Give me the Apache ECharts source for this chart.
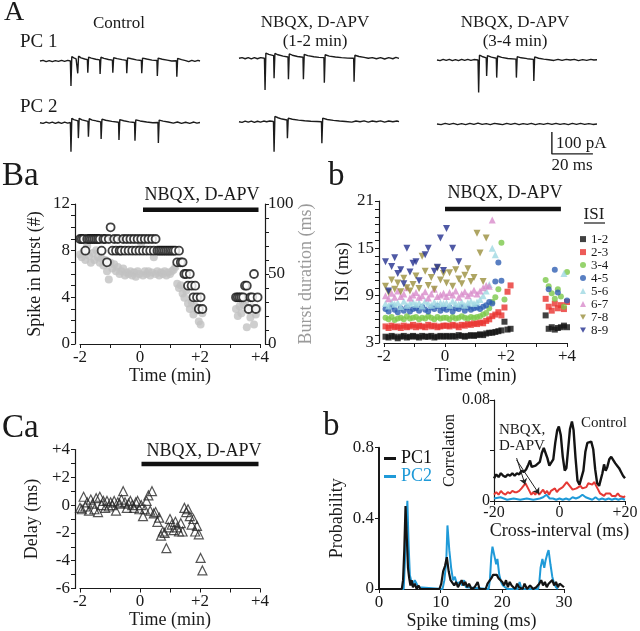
<!DOCTYPE html>
<html><head><meta charset="utf-8">
<script src="https://cdn.jsdelivr.net/npm/echarts@6/dist/echarts.min.js"></script>
<style>html,body{margin:0;padding:0;background:#fff}#c{width:640px;height:631px}</style>
</head><body><div id="c"></div><script>
// ---------- Panel A: current traces [time (ms), current (pA)] ----------
const trControlPC1 = [[0,0],[1.5,3],[3,-3],[4.5,2],[6,-3],[7.5,2],[9,-2],[10.5,3],[12,-2],[13.5,3],[14.8,0],
 [15.1,-114],[15.5,20],[16.5,14],[17.6,10],[18.2,8],[18.4,-56],[18.8,22],[20,14],[21.8,9],[23.1,6],
 [23.3,-53],[23.7,18],[25,13],[27.2,8],[29.1,5],[29.3,-59],[29.7,17],[31.2,12],[33.4,7],[35.3,4],
 [35.5,-53],[35.9,15],[37.6,11],[40,6],[42.1,3],[42.3,-56],[42.7,14],[44.6,10],[47,5],[49.4,2],
 [49.6,-56],[50,13],[52,9],[54.6,4],[57,2],[57.2,-68],[57.6,13],[59.6,8],[62,4],[64.2,0],[66.5,1],
 [66.7,-71],[67.1,12],[69,6],[71,2],[72.5,-3],[74,3],[75.5,-2],[77,3],[78,0]];
const trControlPC2 = [[0,0],[1.5,-3],[3,3],[4.5,-2],[6,3],[7.5,-3],[9,2],[10.5,-3],[12,3],[13.5,-2],[14.8,1],
 [15.1,-132],[15.5,20],[16.5,14],[18.5,8],[18.7,-70],[19.1,20],[20.5,13],[23.4,6],
 [23.6,-64],[24,18],[25.5,12],[27.5,8],[29.6,4],[29.8,-74],[30.2,16],[32,11],[35,6],[38.3,2],
 [38.5,-79],[38.9,14],[40.8,9],[43.5,4],[46.1,1],[46.3,-82],[46.7,13],[48.8,8],[52,3],[55,0],[57.5,1],
 [57.7,-92],[58.1,12],[60,7],[62.5,3],[65,-2],[67,3],[69,-3],[71,2],[73,-3],[75,3],[76.5,-2],[78,1]];
const trEarlyPC1 = [[0,0],[1.5,3],[3,-2],[4.5,3],[6,-3],[7.5,3],[9,-2],[10.5,3],[12.4,0],
 [12.7,-144],[13.1,24],[14.5,18],[16.9,12],[17.1,-91],[17.5,22],[19,16],[21.5,10],[23.9,6],
 [24.1,-95],[24.5,20],[26,14],[28.5,8],[31.2,5],[31.4,-95],[31.8,18],[33.5,12],[36.5,7],[39,4],[41.4,3],
 [41.6,-111],[42,16],[44,10],[47,6],[50,3],[53,1],[55.9,0],[56.1,-106],[56.5,14],[58.5,8],[61,4],
 [63,0],[65,3],[67,-2],[69,3],[71,-3],[73,3],[75,-2],[76.5,4],[78,0]];
const trEarlyPC2 = [[0,0],[1.5,-3],[3,3],[4.5,-2],[6,3],[7.5,-3],[9,2],[10.5,-2],[12,3],[13.5,0],[15,3],[16.8,1],
 [17.1,-136],[17.5,24],[19,18],[21,12],[23.4,8],[23.6,-75],[24,16],[26,11],[29,7],[32,4],[35,2],[38,1],[40.2,0],
 [40.4,-98],[40.8,16],[43,10],[46,6],[49,3],[52,1],[55,-2],[57,3],[59,0],[61,4],[63,-2],[65,3],[67,0],
 [69,4],[71,-2],[73,3],[75,0],[77,3],[78,0]];
const trLatePC1 = [[0,0],[1.5,-3],[3,3],[4.5,-2],[6,3],[7.5,-3],[9,2],[10.5,-3],[12,3],[13.5,-2],[15,3],[16.5,-2],[18,2],[20,0],
 [20.3,-148],[20.7,22],[22,16],[24,10],[24.2,-73],[24.6,20],[26.5,13],[28.9,8],
 [29.1,-80],[29.5,18],[31.5,12],[34.5,7],[38.5,4],[38.7,-80],[39.1,15],[41,10],[44,6],[47,3],
 [47.2,-95],[47.6,14],[49.5,8],[52,4],[54.5,1],[57,-2],[59,3],[61,-2],[63,3],[65,0],[67,3],[69,-3],
 [71,2],[73,-2],[75,3],[76.5,0],[78,1]];
const trLatePC2 = [[0,0],[2,-3],[4,3],[6,-2],[8,3],[10,-3],[12,2],[14,-3],[16,3],[18,-2],[20,4],[22,-2],[24,2],
 [26,-3],[28,3],[30,0],[32,-3],[34,3],[36,-2],[38,3],[40,-3],[42,2],[44,-2],[46,3],[48,-3],[50,2],[52,-2],
 [54,3],[56,-2],[58,3],[60,-2],[62,2],[64,-3],[66,3],[68,-2],[70,3],[72,-2],[74,2],[76,-2],[78,0]];
const scaleBar = [[56,-36],[56,-136],[76,-136]]; // 100 pA, 20 ms

// ---------- Panel Ba / Ca: time (min) ----------
const tA = [-2.00,-1.94,-1.88,-1.82,-1.76,-1.70,-1.64,-1.58,-1.52,-1.46,
 -1.40,-1.34,-1.28,-1.22,-1.16,-1.10,-1.04,-0.98,-0.92,-0.86,
 -0.80,-0.74,-0.68,-0.62,-0.56,-0.50,-0.44,-0.38,-0.32,-0.26,
 -0.20,-0.14,-0.08,-0.02,0.04,0.10,0.16,0.22,0.28,0.34,
 0.40,0.46,0.52,0.58,0.64,0.70,0.76,0.82,0.88,0.94,
 1.00,1.06,1.12,1.18,1.24,1.30,1.36,1.42,1.48,1.54,
 1.60,1.66,1.72,1.78,1.84,1.90,1.96,2.02,2.08,
 3.20,3.26,3.32,3.38,3.44,3.50,3.56,3.62,3.68,3.74,3.80,3.86,3.92];
const baCount = [9,9,9,8,9,9,9,9,9,9, 9,9,8,9,9,7,9,10,8,9, 8,9,8,8,9,8,9,8,9,8,
 9,8,9,8,9,8,9,8,9,8, 9,8,9,8,8,8,8,8,8,8, 8,8,8,8,7,8,7,7,6,6, 5,6,5,4,5,4,3,4,3,
 4,4,4,4,4,5,5,3,4,4,6,3,4];
const baDuration = [64,62,66,60,70,63,58,65,60,67, 62,58,61,56,60,52,46,58,54,57, 52,55,50,52,54,49,51,50,52,49,
 51,48,52,50,70,49,52,50,52,49, 51,62,50,52,49,51,50,52,49,51, 50,52,53,55,43,40,42,36,33,38, 29,25,30,21,27,24,16,14,22,
 25,20,27,22,28,30,12,24,19,26,14,21,25];
const caDelay = [-0.2,-0.3,0.6,-0.1,0.2,-0.4,0.4,0.1,-0.3,0.5, -0.5,0.6,0.0,0.3,-0.2,0.3,-0.1,0.2,0.0,0.3,
 -0.4,0.2,0.1,0.4,1.0,0.2,-0.2,0.1,0.3,0.0, -0.2,0.2,0.3,-0.3,0.0,-0.8,-0.3,0.3,0.7,-0.4,
 1.0,-0.6,-0.5,-1.2,-0.9,-2.2,-1.9,-2.0,-3.1,-1.6, -1.0,-1.4,-1.8,-1.2,-1.6,-1.9,-1.3,-1.9,-0.2,-0.5,
 -0.3,-0.8,-1.4,-1.0,-1.9,-1.5,-2.1,-3.8,-4.7,
 null,null,null,null,null,null,null,null,null,null,null,null,null];

// ---------- Panel Bb: ISI (ms) vs time (min) ----------
const tB = [-1.95,-1.85,-1.75,-1.65,-1.55,-1.45,-1.35,-1.25,-1.15,-1.05,
 -0.95,-0.85,-0.75,-0.65,-0.55,-0.45,-0.35,-0.25,-0.15,-0.05,
 0.05,0.15,0.25,0.35,0.45,0.55,0.65,0.75,0.85,0.95,
 1.05,1.15,1.25,1.35,1.45,1.55,1.65,1.75,1.85,1.95,2.05,2.15,
 3.3,3.4,3.5,3.6,3.7,3.8,3.9,4.0];
const N8 = [null,null,null,null,null,null,null,null];
const isiNames = ['1-2','2-3','3-4','4-5','5-6','6-7','7-8','8-9'];
const isi12 = [3.8,3.7,3.9,3.8,3.6,3.8,3.9,3.7,3.8,3.9, 3.8,3.7,3.9,3.8,3.8,3.9,3.7,3.8,3.9,3.8,
 3.9,3.8,3.9,3.8,4.0,3.9,3.8,3.9,4.0,3.9, 4.0,4.1,4.0,4.2,4.3,4.3,4.4,4.5,4.6,5.7,4.7,4.8,
 6.5,4.8,5.0,4.7,4.9,5.0,5.2,5.0];
const isi23 = [5.1,4.9,5.2,5.0,5.1,4.9,5.2,5.0,5.1,5.3, 5.0,5.2,5.1,5.0,5.3,5.1,5.2,5.0,5.1,5.2,
 5.2,5.1,5.3,5.2,5.0,5.3,5.2,5.4,5.3,5.5, 5.4,5.6,5.5,5.8,6.0,6.4,6.6,6.9,6.5,7.5,9.5,10.3,
 8.6,7.6,7.1,8.0,7.4,7.8,7.3,8.2];
const isi34 = [6.2,6.0,6.3,5.9,6.1,6.2,6.0,6.4,6.1,6.2, 6.3,6.0,6.2,6.1,6.4,6.2,6.0,6.3,6.1,6.2,
 6.2,6.0,6.3,6.1,6.2,6.4,6.2,6.1,6.3,6.2, 6.3,6.4,6.6,6.8,7.4,8.2,8.8,9.8,15.7,8.5,null,null,
 11.0,10.2,9.3,8.6,9.8,8.9,7.6,12.0];
const isi45 = [7.3,7.0,7.6,7.2,6.9,7.4,7.1,7.5,7.0,7.3, 7.4,7.1,7.6,7.2,7.0,7.5,7.3,7.7,7.1,7.4,
 7.2,7.5,7.0,7.4,7.3,7.6,7.1,7.5,7.2,7.4, 7.5,7.3,7.6,7.8,8.2,8.0,10.8,13.2,10.9,null,null,null,
 null,9.8,null,12.3,9.4,null,null,8.4];
const isi56 = [8.0,7.7,8.2,7.9,8.1,7.6,8.3,7.8,8.0,8.2, 7.9,8.1,7.7,8.3,8.0,7.8,8.2,7.9,8.1,8.0,
 8.1,7.8,8.3,8.0,7.9,8.2,7.8,8.1,8.3,8.0, 8.2,8.5,9.0,9.6,10.4,15.0,14.2,null,null,null,null,null,
 null,null,null,null,null,null,11.8,null];
const isi67 = [9.0,8.6,9.3,8.8,9.6,8.9,9.2,10.0,8.7,9.1, 9.4,8.8,9.0,9.5,8.7,9.2,9.8,8.9,9.1,9.3,
 8.9,9.4,9.1,9.6,8.8,9.2,9.5,9.0,9.3,9.7, 9.2,9.6,10.0,10.3,10.2,18.6,null,null,null,null,null,null].concat(N8);
const isi78 = [10.2,9.4,11.0,9.8,10.6,9.5,11.2,10.0,9.6,10.4, 11.5,9.9,14.0,12.1,10.3,11.3,9.8,12.5,11.0,11.8,
 10.6,11.9,10.2,12.3,11.1,10.5,11.6,12.4,10.8,11.3, 16.9,14.4,10.8,16.3,null,null,null,null,null,null,null,null].concat(N8);
const isi89 = [13.3,9.6,12.7,13.8,11.8,12.3,10.5,15.0,12.0,13.1, 13.3,10.9,null,14.2,15.0,null,12.1,12.6,16.3,12.2,
 17.5,null,15.0,null,13.3,null,null,null,null,null, null,null,null,null,null,null,null,null,null,null,null,null].concat(N8);

// ---------- Panel Cb: spike timing histograms [ms, probability] ----------
const probPC1 = [[0,0],[3.7,0],[3.9,0.05],[4.1,0.22],[4.3,0.47],[4.5,0.30],[4.7,0.12],[4.9,0.06],[5.1,0.02],[5.3,0.05],
 [5.5,0.01],[5.8,0.03],[6.1,0],[6.4,0.02],[6.7,0],[9.8,0],[10.1,0.03],[10.4,0.10],[10.7,0.13],[11.0,0.18],[11.3,0.10],
 [11.6,0.05],[11.9,0.06],[12.2,0.02],[12.5,0.04],[12.8,0.01],[13.1,0.03],[13.4,0.05],[13.7,0.02],[14.0,0.04],[14.3,0.01],
 [14.6,0.03],[15.0,0],[15.5,0.01],[16.0,0.04],[16.3,0],[17.3,0],[17.6,0.03],[17.9,0.02],[18.2,0.06],[18.5,0.08],
 [18.8,0.07],[19.1,0.08],[19.4,0.06],[19.7,0.07],[20.0,0.04],[20.3,0.02],[20.6,0.05],[20.9,0.01],[21.2,0.04],[21.5,0.02],
 [21.8,0.03],[22.1,0],[22.4,0.03],[22.7,0.01],[23.0,0.02],[23.3,0],[23.6,0.03],[24.0,0],[24.5,0.02],[25.0,0],[25.5,0.01],
 [26.0,0.03],[26.3,0.05],[26.6,0.02],[26.9,0.04],[27.2,0.01],[27.5,0.03],[27.8,0.02],[28.1,0.05],[28.4,0.02],[28.7,0.04],
 [29.0,0.01],[29.3,0.03],[29.6,0.02],[30,0.01]];
const probPC2 = [[0,0],[4.0,0],[4.2,0.15],[4.4,0.35],[4.6,0.50],[4.8,0.25],[5.0,0.08],[5.2,0.05],[5.5,0.03],[5.8,0.05],
 [6.1,0.04],[6.4,0.01],[6.7,0],[10.3,0],[10.6,0.05],[10.9,0.15],[11.1,0.36],[11.4,0.22],[11.7,0.12],[12.0,0.05],
 [12.3,0.07],[12.6,0.03],[12.9,0.02],[13.2,0.04],[13.5,0.02],[13.8,0.05],[14.1,0.01],[14.4,0],[17.8,0],[18.0,0.06],
 [18.2,0.18],[18.4,0.24],[18.7,0.23],[19.0,0.14],[19.2,0.17],[19.5,0.08],[19.8,0.04],[20.1,0.02],[20.4,0.03],[20.8,0],
 [22.5,0],[22.8,0.04],[23.1,0],[25.8,0],[26.0,0.04],[26.2,0.12],[26.5,0.17],[26.8,0.12],[27.0,0.16],[27.3,0.20],
 [27.5,0.22],[27.8,0.14],[28.1,0.07],[28.4,0.03],[28.7,0.01],[29.0,0]];

// ---------- Inset: cross-correlation [ms, correlation] ----------
const corrControl = [[-20,0.018],[-19.3,0.021],[-18.6,0.019],[-17.9,0.022],[-17.2,0.020],[-16.5,0.019],[-15.8,0.021],
 [-15.1,0.020],[-14.4,0.022],[-13.7,0.020],[-13.0,0.022],[-12.3,0.021],[-11.6,0.024],[-10.9,0.023],[-10.2,0.025],
 [-9.5,0.029],[-9.0,0.032],[-8.5,0.027],[-7.9,0.026],[-7.3,0.028],[-6.7,0.027],[-6.0,0.031],[-5.4,0.038],[-4.8,0.042],
 [-4.3,0.041],[-3.7,0.034],[-3.1,0.028],[-2.5,0.027],[-1.9,0.033],[-1.3,0.046],[-0.7,0.056],[-0.2,0.059],[0.4,0.052],
 [1.0,0.035],[1.6,0.024],[2.1,0.026],[2.6,0.040],[3.2,0.057],[3.8,0.063],[4.3,0.056],[4.9,0.034],[5.5,0.016],[6.1,0.013],
 [6.7,0.014],[7.3,0.024],[7.9,0.039],[8.5,0.046],[9.1,0.045],[9.7,0.047],[10.3,0.041],[10.9,0.025],[11.5,0.014],
 [12.1,0.012],[12.6,0.013],[13.1,0.022],[13.6,0.029],[14.1,0.024],[14.6,0.027],[15.2,0.033],[15.8,0.035],[16.4,0.034],
 [17.0,0.030],[17.6,0.028],[18.2,0.026],[18.8,0.023],[19.4,0.020],[20,0.018]];
const corrEarly = [[-20,0.005],[-19.3,0.007],[-18.6,0.005],[-17.9,0.008],[-17.2,0.006],[-16.5,0.005],[-15.8,0.007],
 [-15.1,0.006],[-14.4,0.008],[-13.7,0.007],[-13.0,0.007],[-12.3,0.008],[-11.6,0.010],[-11.0,0.012],[-10.4,0.014],
 [-9.8,0.013],[-9.2,0.008],[-8.6,0.005],[-8.0,0.007],[-7.4,0.005],[-6.8,0.008],[-6.2,0.005],[-5.6,0.006],[-5.0,0.009],
 [-4.4,0.006],[-3.8,0.008],[-3.2,0.005],[-2.6,0.008],[-2.0,0.007],[-1.4,0.010],[-0.8,0.007],[-0.2,0.009],[0.4,0.008],
 [1.0,0.011],[1.6,0.013],[2.2,0.015],[2.8,0.014],[3.4,0.011],[4.0,0.009],[4.6,0.008],[5.2,0.010],[5.8,0.009],[6.4,0.012],
 [7.0,0.010],[7.6,0.009],[8.2,0.011],[8.8,0.014],[9.4,0.015],[10.0,0.013],[10.6,0.015],[11.2,0.012],[11.8,0.009],
 [12.4,0.006],[13.0,0.006],[13.6,0.004],[14.2,0.006],[14.8,0.005],[15.4,0.006],[16.0,0.004],[16.6,0.005],[17.2,0.004],
 [17.8,0.006],[18.4,0.004],[19.0,0.005],[19.6,0.003],[20,0.004]];
const corrLate = [[-20,0.002],[-18,0.003],[-16,0.001],[-14,0.002],[-12,0.001],[-10,0.002],[-8,0.001],[-6,0.002],
 [-5,0.003],[-4,0.005],[-3,0.002],[-2,0.002],[-1,0.001],[0,0.002],[1,0.001],[2,0.002],[3,0.001],[4,0.003],[5,0.002],
 [6,0.003],[7,0.005],[8,0.003],[9,0.002],[10,0.001],[11,0.003],[12,0.001],[13,0.002],[14,0.001],[15,0.002],[16,0.001],
 [17,0.002],[18,0.001],[19,0.002],[20,0.001]];
const arrowsNBQX = [[[-13.1,0.034],[-10.5,0.013]], [[-13.1,0.0325],[-6.2,0.0055]]];
const drugOn = 0.1, drugOff = 3.95;

// ---------- build chart ----------
const F = '"Liberation Serif", "Times New Roman", serif';
const INK = '#1a1a1a';
const DOWN_TRI = 'path://M0,0 L10,0 L5,9 Z';
const plus = v => (v > 0 ? '+' + v : '' + v);
function clean(o){ Object.keys(o).forEach(k => { if (o[k] === undefined) delete o[k]; }); return o; }
function axis(o) {
  return clean({
    type: 'value', gridIndex: o.g, min: o.min, max: o.max, interval: o.iv,
    position: o.pos, offset: o.off || 0,
    axisLine: { show: true, onZero: false, lineStyle: { color: INK, width: o.lw || 1.2 } },
    axisTick: { show: true, length: 4, lineStyle: { color: INK, width: 1 } },
    minorTick: { show: !!o.minor, splitNumber: o.minor || 5, length: 4, lineStyle: { color: INK, width: 1 } },
    splitLine: { show: false }, minorSplitLine: { show: false },
    axisLabel: clean({ show: true, formatter: o.fmt, fontFamily: F, fontSize: o.fs || 17, color: INK, margin: o.margin || 5 }),
    name: o.name || '', nameLocation: 'middle', nameGap: o.gap || 20, nameRotate: o.rot,
    nameTextStyle: { fontFamily: F, fontSize: o.nfs || 18, color: o.ncolor || INK }
  });
}
const hid = (g, min, max) => ({ type: 'value', gridIndex: g, min, max, show: false,
  axisLine: { onZero: false }, splitLine: { show: false } });
const grid = (left, top, width, height) => ({ left, top, width, height, containLabel: false, outerBoundsMode: 'none' });

const grids = [
  grid(40, 52.2, 160, 44), grid(40, 113.9, 160, 44),
  grid(239, 49.5, 160, 44), grid(239, 112.9, 160, 44),
  grid(437, 51.2, 160, 44), grid(437, 115.2, 160, 44),
  grid(80, 204, 180, 140),      // 6 Ba
  grid(384, 201, 183, 142),     // 7 Bb
  grid(80, 449.5, 180, 139),    // 8 Ca
  grid(379, 447.7, 185, 141.3), // 9 Cb
  grid(494, 400, 131, 101)      // 10 inset
];
const xAxes = [0,1,2,3,4,5].map(g => hid(g, 0, 78)).concat([
  axis({ g: 6, min: -2, max: 4, iv: 2, minor: 2, fmt: plus, name: 'Time (min)', gap: 23 }),
  axis({ g: 7, min: -2, max: 4, iv: 2, minor: 2, fmt: plus, name: 'Time (min)', gap: 24 }),
  axis({ g: 8, min: -2, max: 4, iv: 2, minor: 2, fmt: plus, name: 'Time (min)', gap: 22 }),
  axis({ g: 9, min: 0, max: 30, iv: 10, name: 'Spike timing (ms)', gap: 20 }),
  axis({ g: 10, min: -20, max: 20, iv: 20, fmt: plus, fs: 16, margin: 4, name: 'Cross-interval (ms)', gap: 18 })
]);
const yAxes = [0,1,2,3,4,5].map(g => hid(g, -160, 40)).concat([
  axis({ g: 6, min: 0, max: 12, iv: 4, minor: 4, pos: 'left', off: 5, name: 'Spike in burst (#)', gap: 31, rot: 90 }),
  axis({ g: 6, min: 0, max: 100, iv: 50, minor: 5, pos: 'right', off: 5, margin: 3, name: 'Burst duration (ms)', gap: 31, rot: 90, ncolor: '#9a9a9a' }),
  axis({ g: 7, min: 3, max: 21, iv: 6, minor: 6, pos: 'left', off: 5, name: 'ISI (ms)', gap: 27, rot: 90 }),
  axis({ g: 8, min: -6, max: 4, iv: 2, minor: 2, pos: 'left', off: 5, fmt: plus, name: 'Delay (ms)', gap: 34, rot: 90 }),
  axis({ g: 9, min: 0, max: 0.8, iv: 0.4, pos: 'left', lw: 2, name: 'Probability', gap: 33, rot: 90 }),
  axis({ g: 10, min: 0, max: 0.08, iv: 0.04, pos: 'left', fs: 16, margin: 4,
    fmt: v => (Math.abs(v) < 1e-9 ? '0' : Math.abs(v - 0.08) < 1e-9 ? '0.08' : ''), name: 'Correlation', gap: 30, nfs: 16, rot: 90 })
]);

const lineS = (name, data, xi, yi, color, w, z) => ({ type: 'line', name, xAxisIndex: xi, yAxisIndex: yi, data,
  symbol: 'none', showSymbol: false, lineStyle: { color, width: w }, itemStyle: { color }, z: z || 2, silent: true });
const pairs = (t, v) => t.map((x, i) => [x, v[i]]).filter(p => p[1] !== null && p[1] !== undefined);

const series = [];
[trControlPC1, trControlPC2, trEarlyPC1, trEarlyPC2, trLatePC1, trLatePC2].forEach((d, i) =>
  series.push(lineS('tr' + i, d, i, i, '#1c1c1c', 1.4)));
series.push(lineS('scale', scaleBar, 5, 5, '#1c1c1c', 1.4));

// Ba
series.push({ type: 'scatter', name: 'dur', xAxisIndex: 6, yAxisIndex: 7, data: pairs(tA, baDuration),
  symbol: 'circle', symbolSize: 8, itemStyle: { color: '#c2c2c2' }, z: 2, silent: true });
series.push({ type: 'scatter', name: 'count', xAxisIndex: 6, yAxisIndex: 6, data: pairs(tA, baCount),
  symbol: 'circle', symbolSize: 8, itemStyle: { color: '#ffffff', borderColor: '#111', borderWidth: 1.8 }, z: 3, silent: true });
series.push(lineS('barBa', [[drugOn, 11.5], [drugOff, 11.5]], 6, 6, '#111', 4.5, 4));

// Bb
const isiData = [isi12, isi23, isi34, isi45, isi56, isi67, isi78, isi89];
const isiColor = ['#111111', '#e8322e', '#7cc84a', '#2f5fb3', '#9fd8e2', '#d88bcb', '#9a8f3c', '#232f8e'];
const isiSym = ['rect', 'rect', 'circle', 'circle', 'triangle', 'triangle', DOWN_TRI, DOWN_TRI];
const isiSize = [6, 6, 6, 6, 7, 7, 7, 7];
isiData.forEach((arr, k) => series.push({ type: 'scatter', name: isiNames[k], xAxisIndex: 7, yAxisIndex: 8,
  data: pairs(tB, arr), symbol: isiSym[k], symbolSize: isiSize[k],
  itemStyle: { color: isiColor[k] }, z: 2 + k * 0.01, silent: true }));
series.push(lineS('barBb', [[0, 20], [3.8, 20]], 7, 8, '#111', 4.5, 4));

// Ca
series.push({ type: 'scatter', name: 'delay', xAxisIndex: 8, yAxisIndex: 9, data: pairs(tA, caDelay),
  symbol: 'triangle', symbolSize: 9, itemStyle: { color: 'rgba(255,255,255,0)', borderColor: '#2b2b2b', borderWidth: 1.2 }, silent: true });
series.push(lineS('barCa', [[0.05, 2.95], [drugOff, 2.95]], 8, 9, '#111', 4.5, 4));

// Cb
series.push(lineS('PC2', probPC2, 9, 10, '#1f9ad8', 2, 2));
series.push(lineS('PC1', probPC1, 9, 10, '#141414', 2.2, 3));

// inset
series.push(lineS('early', corrEarly, 10, 11, '#e53935', 2, 2));
series.push(lineS('late', corrLate, 10, 11, '#1f9ad8', 2, 3));
series.push(lineS('control', corrControl, 10, 11, '#141414', 2.4, 4));
series.push({ type: 'lines', coordinateSystem: 'cartesian2d', xAxisIndex: 10, yAxisIndex: 11,
  data: arrowsNBQX.map(c => ({ coords: c })), symbol: ['none', 'arrow'], symbolSize: 6,
  lineStyle: { color: '#222', width: 1, opacity: 1 }, z: 5, silent: true });

const T = (text, x, y, size, align, color) => ({ type: 'text', x, y, silent: true, z: 10,
  style: { text, fill: color || INK, font: size + 'px ' + F, align: align || 'left', verticalAlign: 'middle',
    textAlign: align || 'left', textVerticalAlign: 'middle' } });
const graphic = [
  T('A', 4, 13, 28), T('Control', 119, 24, 17, 'center'),
  T('NBQX, D-APV', 315, 23, 17, 'center'), T('(1-2 min)', 315, 42, 17, 'center'),
  T('NBQX, D-APV', 515, 23, 17, 'center'), T('(3-4 min)', 515, 42, 17, 'center'),
  T('PC 1', 20, 42, 19), T('PC 2', 20, 107, 19),
  T('100 pA', 556, 144, 17), T('20 ms', 572, 166, 17, 'center'),
  T('Ba', 2, 176, 33), T('b', 328, 176, 33),
  T('NBQX, D-APV', 202, 195, 18, 'center'), T('NBQX, D-APV', 505, 193, 18, 'center'),
  T('ISI', 594, 215, 17, 'center'),
  { type: 'line', silent: true, shape: { x1: 584, y1: 223, x2: 605, y2: 223 }, style: { stroke: INK, lineWidth: 1.2 } },
  T('Ca', 2, 428, 33), T('NBQX, D-APV', 204, 451, 18, 'center'), T('b', 323, 426, 33),
  T('Control', 581, 423, 15), T('NBQX,', 499, 430, 15), T('D-APV', 499, 446, 15)
];

const option = {
  animation: false,
  backgroundColor: '#ffffff',
  textStyle: { fontFamily: F },
  grid: grids, xAxis: xAxes, yAxis: yAxes, series, graphic,
  legend: [
    { data: isiNames, orient: 'vertical', left: 575, top: 227.6, itemWidth: 6, itemHeight: 6, itemGap: 0,
      selectedMode: false, textStyle: { fontFamily: F, fontSize: 13, lineHeight: 9.4, color: INK } },
    { data: [{ name: 'PC1', textStyle: { color: '#111' } }, { name: 'PC2', textStyle: { color: '#1f9ad8' } }],
      orient: 'vertical', left: 379, top: 444.5, icon: 'rect', itemWidth: 12, itemHeight: 3, itemGap: 0,
      selectedMode: false, textStyle: { fontFamily: F, fontSize: 18, lineHeight: 17 } }
  ]
};
const chart = echarts.init(document.getElementById('c'), null, { renderer: 'canvas' });
chart.setOption(option);
</script></body></html>
